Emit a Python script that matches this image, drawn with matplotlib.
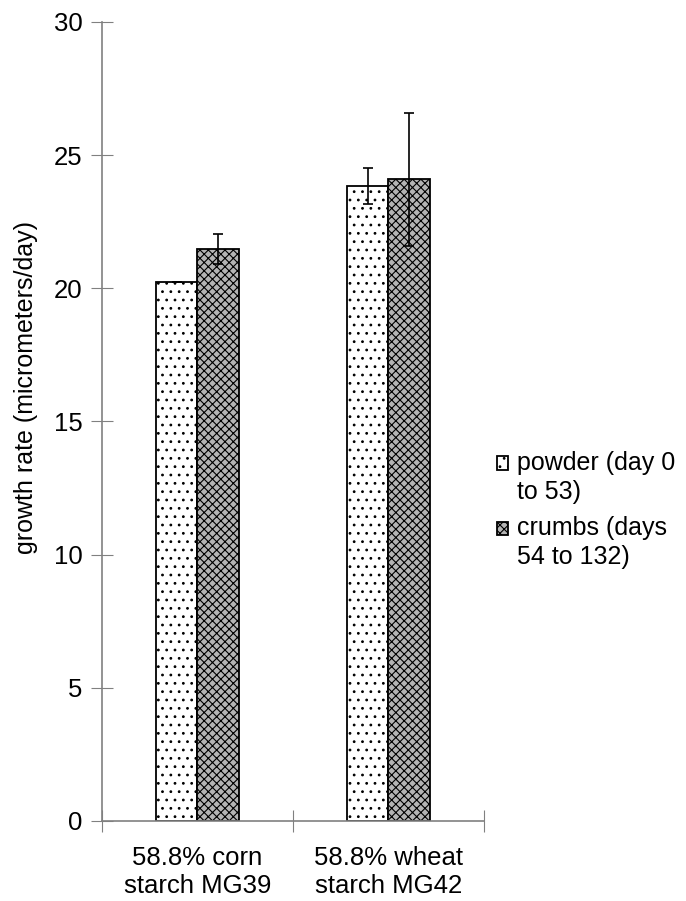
import matplotlib
matplotlib.use("Agg")
import matplotlib.pyplot as plt
import numpy as np
from matplotlib.patches import Rectangle
from matplotlib.legend_handler import HandlerPatch

plt.rcParams['font.family'] = ['Liberation Sans', 'DejaVu Sans']
plt.rcParams['hatch.linewidth'] = 0.8

categories = ["58.8% corn\nstarch MG39", "58.8% wheat\nstarch MG42"]
series_names = ["powder (day 0\nto 53)", "crumbs (days\n54 to 132)"]
powder = [20.25, 23.85]
powder_err = [0.0, 0.68]
crumbs = [21.48, 24.1]
crumbs_err = [0.55, 2.5]


def top_box(legend, orig_handle, xdescent, ydescent, width, height, fontsize):
    # put the key next to the first line of a two-line label
    return Rectangle((-xdescent, -ydescent + 0.6 * fontsize), width, height)


fig = plt.figure(figsize=(6.86, 9.01), dpi=100)
ax = fig.add_axes([0.1487, 0.0888, 0.5568, 0.8868])

x = np.arange(len(categories))
w = 0.215
err_kw = dict(ecolor='black', elinewidth=1.2, capsize=3.5, capthick=1.2)
b1 = ax.bar(x - w / 2, powder, w, yerr=powder_err, facecolor='white', edgecolor='black',
            linewidth=1.3, hatch='..', error_kw=err_kw)
b2 = ax.bar(x + w / 2, crumbs, w, yerr=crumbs_err, facecolor='#b4b4b4', edgecolor='black',
            linewidth=1.3, hatch='xxxx', error_kw=err_kw)

ax.set_xlim(-0.5, 1.5)
ax.set_ylim(0, 30)
ax.set_yticks(range(0, 31, 5))
ax.set_xticks([-0.5, 0.5, 1.5], minor=False)
ax.set_xticklabels([])
ax.set_xticks(x, minor=True)
ax.set_xticklabels(categories, minor=True, fontsize=18.5, linespacing=1.2)
ax.tick_params(axis='x', which='minor', length=0, pad=18)
ax.tick_params(axis='x', which='major', direction='inout', length=16, color='#808080')
ax.tick_params(axis='y', direction='inout', length=16, color='#808080', labelsize=18.5, pad=6)

for s in ['top', 'right']:
    ax.spines[s].set_visible(False)
for s in ['left', 'bottom']:
    ax.spines[s].set_color('#808080')
    ax.spines[s].set_linewidth(1.2)

ax.set_ylabel("growth rate (micrometers/day)", fontsize=18)
ax.yaxis.set_label_coords(-0.1675, 0.542)

h1, h2 = b1.patches[0], b2.patches[0]
leg = ax.legend([h1, h2], series_names, loc='center left', bbox_to_anchor=(1.034, 0.389),
                frameon=False, fontsize=18, handlelength=0.45, handleheight=0.45,
                handletextpad=0.35, labelspacing=0.5, borderaxespad=0, borderpad=0,
                handler_map={h1: HandlerPatch(patch_func=top_box),
                             h2: HandlerPatch(patch_func=top_box)})
for t in leg.get_texts():
    t.set_linespacing(1.25)

fig.savefig("out.png", dpi=100)
